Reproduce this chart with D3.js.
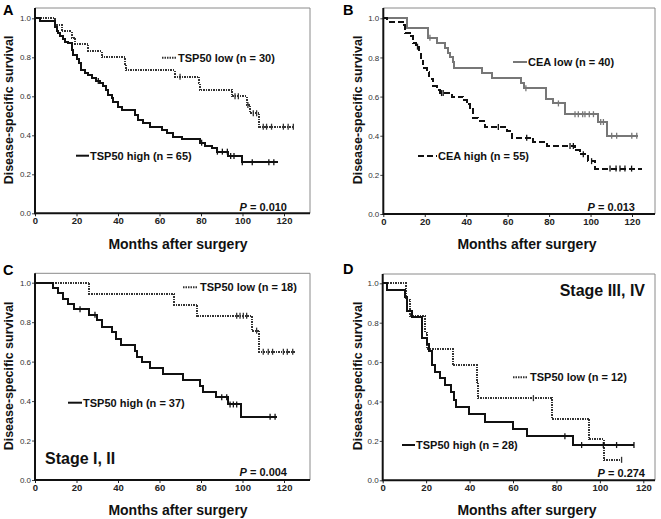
<!DOCTYPE html>
<html><head><meta charset="utf-8">
<script src="https://cdn.jsdelivr.net/npm/d3@7"></script>
<style>
body{margin:0;background:#fff;}
text{font-family:"Liberation Sans",Arial,Helvetica,sans-serif;}
</style></head>
<body><svg id="c" width="661" height="519"></svg>
<script>
// ---------- shared tick values ----------
const monthTicks = [0, 20, 40, 60, 80, 100, 120];
const survTicks = [0, 0.2, 0.4, 0.6, 0.8, 1.0];

// ---------- Panel A ----------
const aLowTimes = [9.6,12.9,17.7,19.3,25.7,32.1,43.5,44,67.5,79,79.3,95,102,103.6,108.1];
const aLowSurv  = [0.967,0.933,0.9,0.867,0.833,0.8,0.767,0.733,0.70,0.667,0.633,0.60,0.555,0.513,0.444];
const aLowCensor = [69.9,96.4,98,102.6,105.2,106.8,110,111.6,114,119.7,122,124.5];
const aLowEnd = 125;
const aHighTimes = [2.4,9.6,10.4,11.2,12.0,13.3,14.5,16.1,17.7,18.5,20.1,21.4,22.1,24.1,25.7,27.3,29.4,31.3,32.6,34.2,35.3,36.9,37.8,40.2,41.8,48.2,49.8,52.2,55.4,61,63.4,66.7,70.7,79.5,81.9,85.1,87.6,93.2,99.6];
const aHighSurv  = [0.985,0.957,0.937,0.923,0.909,0.892,0.880,0.872,0.837,0.812,0.79,0.769,0.735,0.721,0.709,0.692,0.678,0.67,0.653,0.632,0.607,0.59,0.573,0.547,0.53,0.504,0.478,0.461,0.444,0.427,0.41,0.393,0.379,0.362,0.347,0.333,0.316,0.294,0.262];
const aHighCensor = [30.5,80.3,87.9,90.3,92.7,94.3,95.9,99.9,104.7,112.7,115.1];
const aHighEnd = 117.3;

// ---------- Panel B ----------
const bLowTimes = [11.3,21.7,25.7,29.8,31,32.2,33.5,34.3,47.5,52.3,66.4,68,78.5,81.7,87.7,103.8,107.8];
const bLowSurv  = [0.95,0.90,0.875,0.85,0.825,0.80,0.775,0.745,0.72,0.695,0.67,0.643,0.59,0.565,0.51,0.47,0.40];
const bLowCensor = [22.5,68.8,84.5,92.5,94.1,96.2,97.3,99.4,101.4,104.9,106.2,110.2,112.6,119.9,122.3];
const bLowEnd = 123;
const bHighTimes = [1.9,9.3,10.5,12.9,14.2,15.8,17.4,18,19.3,20.9,22.2,24.1,25.7,27.3,33,38.6,40.2,41.8,43.4,45.8,49.1,59.5,61.9,72.4,78.8,92.5,94.9,98.9,102.2];
const bHighSurv  = [0.982,0.964,0.927,0.909,0.873,0.855,0.836,0.782,0.745,0.727,0.691,0.655,0.636,0.618,0.60,0.582,0.56,0.535,0.49,0.475,0.445,0.425,0.39,0.37,0.348,0.325,0.305,0.27,0.232];
const bHighCensor = [16.5,28.1,28.9,55.5,69.2,90.1,91.7,96.5,100.5,109.4,112.3,114.2,116.6,119.8];
const bHighEnd = 124.7;

// ---------- Panel C ----------
const cLowTimes = [26.2,67,78.2,104.4,108.1];
const cLowSurv  = [0.944,0.889,0.833,0.757,0.65];
const cLowCensor = [97.2,98.8,100.4,102,106.8,110,112.4,114.5,119.7,121.6,124.2];
const cLowEnd = 125.3;
const cHighTimes = [8.8,11.2,13.3,16.1,18.8,26.2,30,32.1,36.9,39,41.3,48.2,49,51.4,55.4,61.8,71.2,79.5,81.1,87.2,92.9,99.1];
const cHighSurv  = [0.973,0.946,0.919,0.892,0.865,0.838,0.811,0.775,0.748,0.713,0.684,0.655,0.625,0.596,0.566,0.535,0.507,0.476,0.444,0.419,0.383,0.321];
const cHighCensor = [21.7,28.9,90,92.4,94,95.6,97.2,113.3,115.7];
const cHighEnd = 116.8;

// ---------- Panel D ----------
const dLowTimes = [10.7,12.6,19.5,20.3,32.2,43.3,44,77.8,95.1,101.9];
const dLowSurv  = [0.917,0.833,0.75,0.667,0.583,0.5,0.417,0.312,0.208,0.104];
const dLowCensor = [69.4,110];
const dLowEnd = 110;
const dHighTimes = [2.1,10.3,11,13.3,18,20.6,21.5,22.6,24.1,26.4,28.7,31.3,32.8,33.8,39.9,47.1,59.8,66.3,87.5];
const dHighSurv  = [0.964,0.929,0.857,0.829,0.72,0.69,0.655,0.586,0.552,0.517,0.483,0.448,0.41,0.373,0.336,0.298,0.261,0.224,0.179];
const dHighCensor = [83.9,91.6,101.6,107.7,115.7];
const dHighEnd = 115.7;

// ---------- labels ----------
const panelLetters = ["A","B","C","D"];
const lowLabels = ["TSP50 low (n = 30)","CEA low (n = 40)","TSP50 low (n = 18)","TSP50 low (n = 12)"];
const highLabels = ["TSP50 high (n = 65)","CEA high (n = 55)","TSP50 high (n = 37)","TSP50 high (n = 28)"];
const pValues = ["0.010","0.013","0.004","0.274"];
const stageLabels = [null, null, "Stage I, II", "Stage III, IV"];

// ---------- layout (pixels) ----------
const layouts = [
  {x:[35,284],    y:[213.3,18.3], top:8,     right:310, letter:[3,15],   yTitle:[12.5,110], xTitle:[178,248.5],
   low:{lx:[162,177],ly:57.7,tx:178}, high:{lx:[76,89],ly:155.7,tx:90}, p:[287,210.5]},
  {x:[383.3,632], y:[214,18.3],   top:8,     right:655, letter:[343,15], yTitle:[361.5,110], xTitle:[527,248.5],
   low:{lx:[513,527],ly:62,tx:528}, high:{lx:[418,437],ly:156,tx:438}, p:[635,211]},
  {x:[35,284],    y:[480,282.7],  top:273.3, right:310, letter:[3,275],  yTitle:[12.5,376], xTitle:[178,514.5],
   low:{lx:[183,198],ly:287.3,tx:200}, high:{lx:[68,82],ly:402.7,tx:83}, p:[287,475.5], stage:[45,464,"start"]},
  {x:[382.7,643.3], y:[480.3,283.3], top:274, right:655, letter:[343,273.5], yTitle:[361.5,376], xTitle:[527,514.5],
   low:{lx:[513,528],ly:377.3,tx:530}, high:{lx:[402,415],ly:445,tx:416}, p:[645,477], stage:[645,296,"end"]}
];

const curves = [
  {low:[aLowTimes,aLowSurv,aLowCensor,aLowEnd], high:[aHighTimes,aHighSurv,aHighCensor,aHighEnd]},
  {low:[bLowTimes,bLowSurv,bLowCensor,bLowEnd], high:[bHighTimes,bHighSurv,bHighCensor,bHighEnd]},
  {low:[cLowTimes,cLowSurv,cLowCensor,cLowEnd], high:[cHighTimes,cHighSurv,cHighCensor,cHighEnd]},
  {low:[dLowTimes,dLowSurv,dLowCensor,dLowEnd], high:[dHighTimes,dHighSurv,dHighCensor,dHighEnd]}
];

const svg = d3.select("#c");

function styleFor(panel, kind){
  if (panel === 1) {
    return kind === "low" ? {stroke:"#777", width:2, dash:null} : {stroke:"#111", width:2, dash:"6,3"};
  }
  return kind === "low" ? {stroke:"#333", width:2, dash:"1.5,1"} : {stroke:"#111", width:2, dash:null};
}

function survAt(times, surv, t){
  let s = 1;
  for (let i = 0; i < times.length; i++) if (times[i] <= t) s = surv[i];
  return s;
}

layouts.forEach((L, i) => {
  const g = svg.append("g");
  const x = d3.scaleLinear().domain([0,120]).range(L.x);
  const y = d3.scaleLinear().domain([0,1]).range(L.y);
  const bottom = L.y[0], left = L.x[0];

  // frame (top/right, thin grey)
  g.append("path").attr("d", `M${left},${L.top}H${L.right}V${bottom}`)
    .attr("fill","none").attr("stroke","#8a8a8a").attr("stroke-width",1);

  // axes
  const xAxis = d3.axisBottom(x).tickValues(monthTicks).tickSize(3).tickFormat(d3.format("d"));
  const gx = g.append("g").attr("transform",`translate(0,${bottom})`).call(xAxis);
  gx.select(".domain").remove();
  gx.selectAll(".tick line").attr("stroke","#222");
  gx.selectAll(".tick text").attr("font-size",9.5).attr("font-weight","bold").attr("fill","#222").attr("dy","0.62em").attr("y",5);
  g.append("line").attr("x1",left).attr("x2",L.right).attr("y1",bottom).attr("y2",bottom)
    .attr("stroke","#111").attr("stroke-width",2);

  const yAxis = d3.axisLeft(y).tickValues(survTicks).tickSize(3).tickFormat(d3.format(".1f"));
  const gy = g.append("g").attr("transform",`translate(${left},0)`).call(yAxis);
  gy.select(".domain").remove();
  gy.selectAll(".tick line").attr("stroke","#444");
  gy.selectAll(".tick text").attr("font-size",8).attr("fill","#333").attr("x",-4);
  g.append("line").attr("x1",left).attr("x2",left).attr("y1",bottom+1).attr("y2",L.top)
    .attr("stroke","#111").attr("stroke-width",2);

  // titles
  g.append("text").attr("x",L.xTitle[0]).attr("y",L.xTitle[1]).attr("text-anchor","middle")
    .attr("font-size",14).attr("font-weight","bold").attr("fill","#111").text("Months after surgery");
  g.append("text").attr("transform",`translate(${L.yTitle[0]},${L.yTitle[1]}) rotate(-90)`)
    .attr("text-anchor","middle").attr("font-size",12.5).attr("font-weight","bold").attr("fill","#111")
    .text("Disease-specific survival");
  g.append("text").attr("x",L.letter[0]).attr("y",L.letter[1]).attr("font-size",14.5)
    .attr("font-weight","bold").attr("fill","#000").text(panelLetters[i]);

  // curves
  ["low","high"].forEach(kind => {
    const [times, surv, censor, end] = curves[i][kind];
    const st = styleFor(i, kind);
    const pts = [[0,1]].concat(times.map((t,k)=>[t,surv[k]]));
    pts.push([end, surv[surv.length-1]]);
    const line = d3.line().x(d=>x(d[0])).y(d=>y(d[1])).curve(d3.curveStepAfter);
    g.append("path").datum(pts).attr("d", line).attr("fill","none")
      .attr("stroke",st.stroke).attr("stroke-width",st.width)
      .attr("stroke-dasharray",st.dash).attr("shape-rendering","crispEdges");
    g.selectAll(null).data(censor).enter().append("line")
      .attr("x1",d=>x(d)).attr("x2",d=>x(d))
      .attr("y1",d=>y(survAt(times,surv,d))-3).attr("y2",d=>y(survAt(times,surv,d))+3)
      .attr("stroke",st.stroke).attr("stroke-width",1.3);

    // legend
    const lg = L[kind];
    g.append("line").attr("x1",lg.lx[0]).attr("x2",lg.lx[1]).attr("y1",lg.ly).attr("y2",lg.ly)
      .attr("stroke",st.stroke).attr("stroke-width",st.width).attr("stroke-dasharray",st.dash);
    g.append("text").attr("x",lg.tx).attr("y",lg.ly+3.8).attr("font-size",11).attr("font-weight","bold")
      .attr("fill","#111").text(kind==="low" ? lowLabels[i] : highLabels[i]);
  });

  // P value
  const pt = g.append("text").attr("x",L.p[0]).attr("y",L.p[1]).attr("text-anchor","end")
    .attr("font-size",11).attr("font-weight","bold").attr("fill","#111");
  pt.append("tspan").attr("font-style","italic").text("P");
  pt.append("tspan").text(" = " + pValues[i]);

  if (stageLabels[i]) {
    g.append("text").attr("x",L.stage[0]).attr("y",L.stage[1]).attr("text-anchor",L.stage[2])
      .attr("font-size",16).attr("font-weight","bold").attr("fill","#111").text(stageLabels[i]);
  }
});
</script></body></html>
